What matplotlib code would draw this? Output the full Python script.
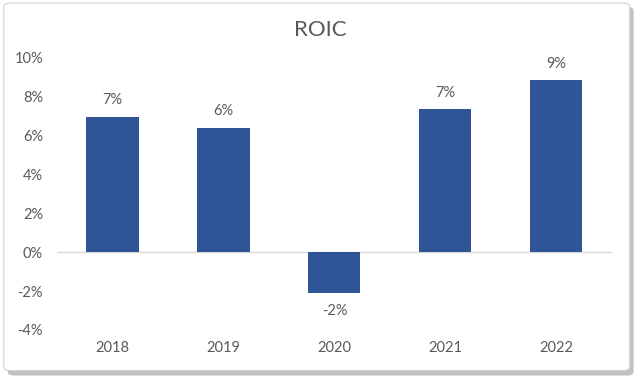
import matplotlib.pyplot as plt
from matplotlib.patches import FancyBboxPatch
from matplotlib.ticker import FuncFormatter

years = ['2018', '2019', '2020', '2021', '2022']
roic = [6.97, 6.42, -2.08, 7.35, 8.85]
labels = ['7%', '6%', '-2%', '7%', '9%']

plt.rcParams['font.family'] = ['Lato', 'DejaVu Sans']
text_color = '#595959'
bar_color = '#2F5597'

fig = plt.figure(figsize=(6.4, 3.84), dpi=100)

# card background with soft shadow (behind the axes)
shadow = FancyBboxPatch((0.012, 0.022), 0.978, 0.96, boxstyle='round,pad=0,rounding_size=0.01',
                        transform=fig.transFigure, facecolor='#9a9a9a', edgecolor='none', alpha=0.6, zorder=-3)
card = FancyBboxPatch((0.006, 0.035), 0.978, 0.957, boxstyle='round,pad=0,rounding_size=0.01',
                      transform=fig.transFigure, facecolor='white', edgecolor='#d0d0d0', linewidth=0.8, zorder=-2)
fig.patches.extend([shadow, card])

ax = fig.add_axes([0.089, 0.141, 0.867, 0.708])
ax.set_facecolor('none')
x = range(len(years))
bars = ax.bar(x, roic, width=0.47, color=bar_color, zorder=3)

for xi, v, lab in zip(x, roic, labels):
    if v >= 0:
        ax.annotate(lab, (xi, v), xytext=(0, 7), textcoords='offset points',
                    ha='center', va='bottom', fontsize=10.5, color=text_color)
    else:
        ax.annotate(lab, (xi, v), xytext=(0, -8), textcoords='offset points',
                    ha='center', va='top', fontsize=10.5, color=text_color)

ax.axhline(0, color='#d9d9d9', linewidth=1, zorder=2)
ax.set_ylim(-4, 10)
ax.set_xlim(-0.5, len(years) - 0.5)
ax.set_yticks(range(-4, 11, 2))
ax.yaxis.set_major_formatter(FuncFormatter(lambda v, p: f'{v:.0f}%'))
ax.set_xticks(list(x))
ax.set_xticklabels(years)
ax.tick_params(axis='both', length=0, labelsize=10.5, labelcolor=text_color)
ax.tick_params(axis='y', pad=10)
ax.tick_params(axis='x', pad=8)
for s in ax.spines.values():
    s.set_visible(False)

fig.text(0.5, 0.922, 'ROIC', ha='center', va='center', fontsize=16, color=text_color)

fig.savefig('out.png', dpi=100)
